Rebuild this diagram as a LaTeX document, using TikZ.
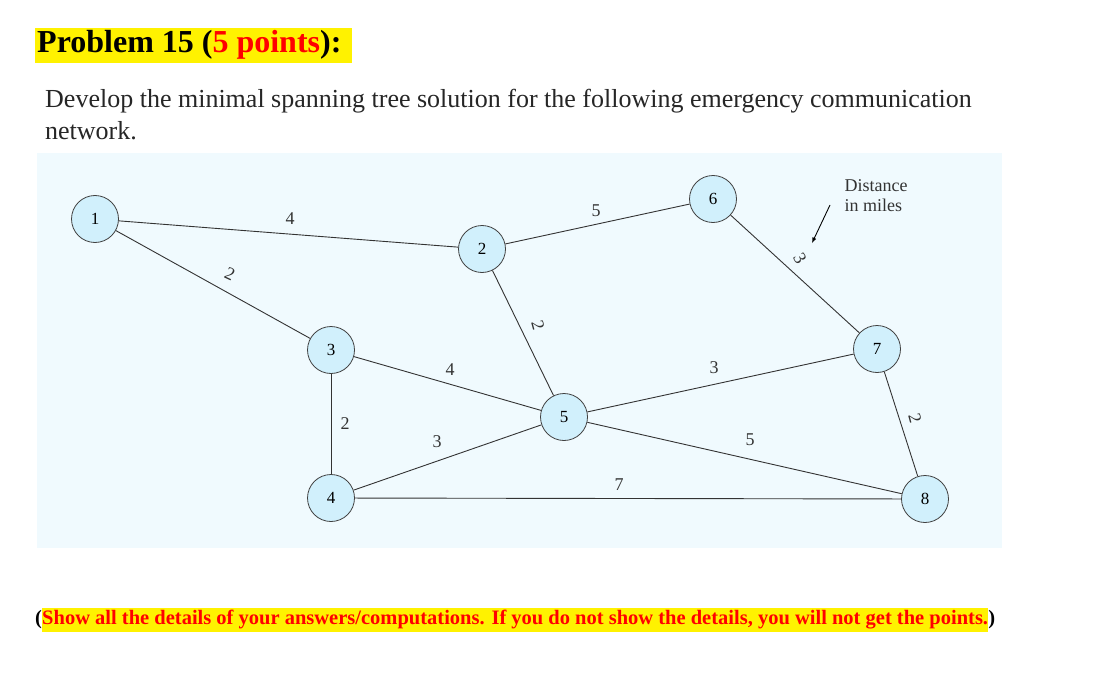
\documentclass[tikz,border=0pt]{standalone}
\usepackage{fontspec}
\setmainfont{Liberation Serif}
\begin{document}
\begin{tikzpicture}[x=1pt,y=-1pt,
  vtx/.style={circle,draw=black!75,fill=cyan!18!white,minimum size=47pt,inner sep=0pt,font=\fontsize{17}{17}\selectfont,line width=0.8pt},
  edg/.style={black!80,line width=0.9pt},
  lbl/.style={font=\fontsize{18}{18}\selectfont,text=black!80}]
\useasboundingbox (0,0) rectangle (1115,695);
\fill[white] (0,0) rectangle (1115,695);
\fill[yellow] (35,28) rectangle (352,63);
\node[anchor=west,font=\fontsize{32}{32}\selectfont\bfseries,inner sep=0pt] (title) at (37,45) {Problem 15 (\textcolor{red}{5 points}):};
\node[anchor=west,font=\fontsize{26}{26}\selectfont,text=black!85,inner sep=0pt] (l1) at (45,101) {Develop the minimal spanning tree solution for the following emergency communication};
\node[anchor=west,font=\fontsize{26}{26}\selectfont,text=black!85,inner sep=0pt] (l2) at (45,131) {network.};
\fill[cyan!6!white] (37,153) rectangle (1002,548);
\node[vtx] (n1) at (95,219) {1};
\node[vtx] (n2) at (482,249) {2};
\node[vtx] (n6) at (713,199) {6};
\node[vtx] (n3) at (331,350) {3};
\node[vtx] (n7) at (877,349) {7};
\node[vtx] (n5) at (564,417) {5};
\node[vtx] (n4) at (331,498) {4};
\node[vtx] (n8) at (925,499) {8};
\draw[edg] (n1)--(n2); \draw[edg] (n1)--(n3); \draw[edg] (n2)--(n6);
\draw[edg] (n6)--(n7); \draw[edg] (n2)--(n5); \draw[edg] (n3)--(n5);
\draw[edg] (n3)--(n4); \draw[edg] (n5)--(n7); \draw[edg] (n4)--(n5);
\draw[edg] (n5)--(n8); \draw[edg] (n4)--(n8); \draw[edg] (n7)--(n8);
\node[lbl] (e12) at (290,219) {4};
\node[lbl,rotate=-25] (e13) at (230,274) {2};
\node[lbl] (e26) at (596,211) {5};
\node[lbl,rotate=-60] (e67) at (800,258) {3};
\node[lbl,rotate=-75] (e25) at (538,325) {2};
\node[lbl] (e35) at (450,370) {4};
\node[lbl] (e57) at (714,368) {3};
\node[lbl] (e34) at (345,424) {2};
\node[lbl] (e45) at (437,442) {3};
\node[lbl] (e58) at (750,440) {5};
\node[lbl,rotate=-75] (e78) at (915,418) {2};
\node[lbl] (e48) at (619,485) {7};
\node[lbl,align=left,inner sep=0pt] (dist) at (876,196) {Distance\\[2pt]in miles};
\coordinate (a0) at (830,205); \coordinate (a1) at (812,243);
\draw[-latex,line width=0.9pt] (a0)--(a1);
\node[anchor=west,inner sep=0pt,font=\fontsize{20.5}{20.5}\selectfont\bfseries] (p1) at (35,620) {(};
\node[anchor=west,inner sep=0pt,outer sep=0pt,fill=yellow,text=red,font=\fontsize{20.5}{20.5}\selectfont\bfseries,minimum height=24pt] (note) at (p1.east) {Show all the details of your answers/computations. If you do not show the details, you will not get the points.};
\node[anchor=west,inner sep=0pt,font=\fontsize{20.5}{20.5}\selectfont\bfseries] (p2) at (note.east) {)};
\end{tikzpicture}
\end{document}
